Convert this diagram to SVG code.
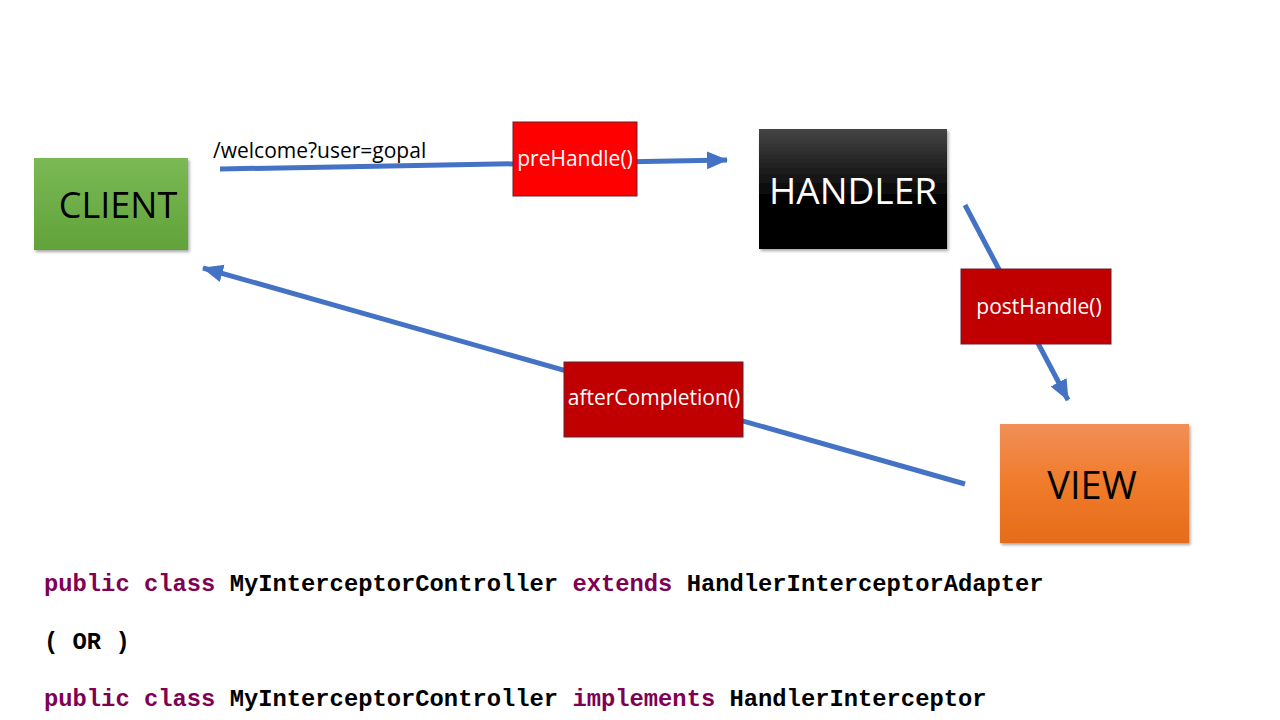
<svg xmlns="http://www.w3.org/2000/svg" width="1280" height="720" viewBox="0 0 1280 720">
  <defs>
    <linearGradient id="gGreen" x1="0" y1="0" x2="0" y2="1">
      <stop offset="0" stop-color="#7ab954"/>
      <stop offset="1" stop-color="#62a23a"/>
    </linearGradient>
    <linearGradient id="gBlack" x1="0" y1="0" x2="0" y2="1">
      <stop offset="0" stop-color="#454545"/>
      <stop offset="0.6" stop-color="#000000"/>
      <stop offset="1" stop-color="#000000"/>
    </linearGradient>
    <linearGradient id="gOrange" x1="0" y1="0" x2="0" y2="1">
      <stop offset="0" stop-color="#f18f58"/>
      <stop offset="0.5" stop-color="#f07b2a"/>
      <stop offset="1" stop-color="#e46c1a"/>
    </linearGradient>
    <filter id="shadow" x="-10%" y="-10%" width="130%" height="130%">
      <feDropShadow dx="1.5" dy="2" stdDeviation="1.5" flood-color="#000" flood-opacity="0.35"/>
    </filter>
    <marker id="arrow" markerUnits="userSpaceOnUse" markerWidth="22" markerHeight="22" viewBox="0 0 22 22" refX="20" refY="11" orient="auto">
      <path d="M0,2 L21,11 L0,20 Z" fill="#4472c4"/>
    </marker>
    <style>
      .conn { stroke: #4472c4; stroke-width: 5; fill: none; marker-end: url(#arrow); }
      .node-label { font-family: "Open Sans", "Liberation Sans", sans-serif; text-anchor: middle; }
      .ic { stroke: #6b1f2a; stroke-width: 1; }
      .ic-label { font-family: "Open Sans", "Liberation Sans", sans-serif; font-size: 21px; fill: #ffffff; text-anchor: middle; }
      .code { font-family: "Liberation Mono", "Courier New", monospace; font-weight: bold; font-size: 23.8px; fill: #000000; }
      .kw { fill: #7f0055; }
    </style>
  </defs>
  <rect width="1280" height="720" fill="#ffffff"/>

  <g id="connectors">
    <line class="conn" x1="220" y1="169" x2="727" y2="160"/>
    <line class="conn" x1="965" y1="205" x2="1068" y2="400"/>
    <line class="conn" x1="965" y1="484" x2="203" y2="268"/>
  </g>

  <g id="client">
    <rect x="34" y="158" width="154" height="92" fill="url(#gGreen)" filter="url(#shadow)"/>
    <text class="node-label" x="118" y="218" font-size="36" fill="#000000">CLIENT</text>
  </g>

  <g id="handler">
    <rect x="759" y="129" width="188" height="120" fill="url(#gBlack)" filter="url(#shadow)"/>
    <text class="node-label" x="853" y="204" font-size="37" fill="#ffffff">HANDLER</text>
  </g>

  <g id="view">
    <rect x="1000" y="424" width="189" height="119" fill="url(#gOrange)" filter="url(#shadow)"/>
    <text class="node-label" x="1092" y="499" font-size="38" fill="#000000">VIEW</text>
  </g>

  <g id="request-label">
    <text x="213" y="158" font-family="Open Sans, Liberation Sans, sans-serif" font-size="21" fill="#000000">/welcome?user=gopal</text>
  </g>

  <g id="preHandle">
    <rect class="ic" x="513" y="122" width="124" height="74" fill="#ff0000"/>
    <text class="ic-label" x="575" y="166">preHandle()</text>
  </g>

  <g id="postHandle">
    <rect class="ic" x="961" y="269" width="150" height="75" fill="#c00000"/>
    <text class="ic-label" x="1039" y="314">postHandle()</text>
  </g>

  <g id="afterCompletion">
    <rect class="ic" x="564" y="362" width="179" height="75" fill="#c00000"/>
    <text class="ic-label" x="654" y="405">afterCompletion()</text>
  </g>

  <g id="code">
    <text class="code" x="44" y="591"><tspan class="kw">public class</tspan> MyInterceptorController <tspan class="kw">extends</tspan> HandlerInterceptorAdapter</text>
    <text class="code" x="44" y="649">( OR )</text>
    <text class="code" x="44" y="706"><tspan class="kw">public class</tspan> MyInterceptorController <tspan class="kw">implements</tspan> HandlerInterceptor</text>
  </g>
</svg>
